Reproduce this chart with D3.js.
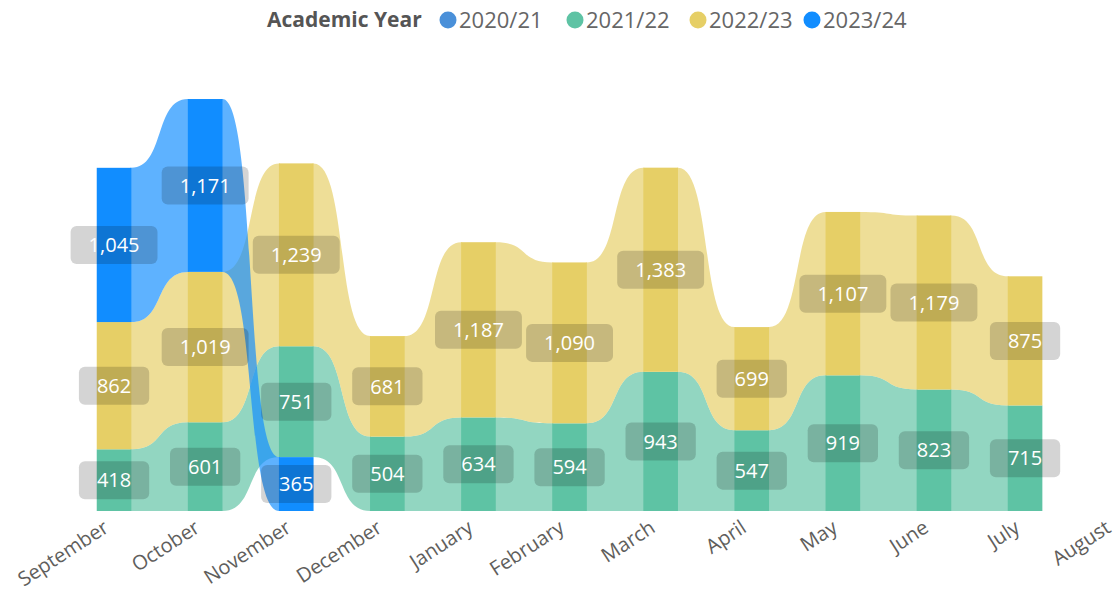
<!DOCTYPE html>
<html>
<head>
<meta charset="utf-8">
<script src="https://cdn.jsdelivr.net/npm/d3@7/dist/d3.min.js"></script>
<style>
  body { margin: 0; background: #fff; }
  svg { display: block; font-family: "Open Sans", "Noto Sans", sans-serif; }
</style>
</head>
<body>
<div id="chart"></div>
<script>
const months = ["September", "October", "November", "December", "January", "February",
                "March", "April", "May", "June", "July", "August"];
const years = ["2020/21", "2021/22", "2022/23", "2023/24"];
const colors = ["#4a90d9", "#5ec3a4", "#e6cf66", "#118dff"];

// values per month, null = no data
const v2021 = [null, null, null, null, null, null, null, null, null, null, null, null];
const v2122 = [418, 601, 751, 504, 634, 594, 943, 547, 919, 823, 715, null];
const v2223 = [862, 1019, 1239, 681, 1187, 1090, 1383, 699, 1107, 1179, 875, null];
const v2324 = [1045, 1171, 365, null, null, null, null, null, null, null, null, null];
const seriesValues = [v2021, v2122, v2223, v2324];

const width = 1120, height = 596;

const svg = d3.select("#chart").append("svg")
  .attr("width", width).attr("height", height);

// Step 1: scales
let x = d3.scaleBand()
  .domain(months)
  .range([68.5, 1161.7])
  .paddingInner(0.62)
  .paddingOuter(0.31);

let y = d3.scaleLinear()
  .domain([0, 2800])
  .range([511, 97.7]);

const bw = x.bandwidth();

// Step 2: stack each month, smallest value at the bottom
let stacks = months.map((m, i) => {
  let items = [];
  seriesValues.forEach((vals, s) => {
    if (vals[i] != null) items.push({ s: s, value: vals[i] });
  });
  items.sort((a, b) => a.value - b.value);
  let acc = 0;
  items.forEach(d => { d.y0 = acc; acc += d.value; d.y1 = acc; });
  let bySeries = {};
  items.forEach(d => bySeries[d.s] = d);
  return bySeries;
});

const plot = svg.append("g");

// Step 3: ribbons between neighbouring months
const k = 0.6;
function ribbon(a, b, xa, xb) {
  let w = xb - xa;
  let c1 = xa + w * k, c2 = xb - w * k;
  let ta = y(a.y1), tb = y(b.y1), ba = y(a.y0), bb = y(b.y0);
  return "M" + (xa - 1) + "," + ta + "L" + xa + "," + ta +
    "C" + c1 + "," + ta + " " + c2 + "," + tb + " " + xb + "," + tb +
    "L" + (xb + 1) + "," + tb + "L" + (xb + 1) + "," + bb + "L" + xb + "," + bb +
    "C" + c2 + "," + bb + " " + c1 + "," + ba + " " + xa + "," + ba +
    "L" + (xa - 1) + "," + ba + "Z";
}

seriesValues.forEach((vals, s) => {
  for (let i = 0; i < months.length - 1; i++) {
    let a = stacks[i][s], b = stacks[i + 1][s];
    if (!a || !b) continue;
    plot.append("path")
      .attr("d", ribbon(a, b, x(months[i]) + bw, x(months[i + 1])))
      .attr("fill", colors[s])
      .attr("fill-opacity", 0.68);
  }
});

// Step 4: bars
months.forEach((m, i) => {
  Object.values(stacks[i]).forEach(d => {
    plot.append("rect")
      .attr("x", x(m))
      .attr("y", y(d.y1))
      .attr("width", bw)
      .attr("height", y(d.y0) - y(d.y1))
      .attr("fill", colors[d.s]);
  });
});

// Step 5: data labels
const fmt = d3.format(",");
months.forEach((m, i) => {
  Object.values(stacks[i]).forEach(d => {
    let cx = x(m) + bw / 2;
    let cy = (y(d.y0) + y(d.y1)) / 2;
    let g = svg.append("g").attr("transform", "translate(" + cx + "," + cy + ")");
    let rect = g.append("rect").attr("fill", "rgba(0,0,0,0.17)").attr("rx", 6);
    let t = g.append("text")
      .attr("text-anchor", "middle")
      .attr("dy", "0.36em")
      .attr("fill", "#fff")
      .style("font-size", "20px")
      .text(fmt(d.value));
    let tw = t.node().getComputedTextLength();
    let bwid = tw + 36;
    rect.attr("x", -bwid / 2).attr("y", -19).attr("width", bwid).attr("height", 38);
  });
});

// Step 6: x axis labels, rotated
months.forEach(m => {
  svg.append("text")
    .attr("transform", "translate(" + (x(m) + bw / 2 - 4) + ",531) rotate(-33)")
    .attr("text-anchor", "end")
    .attr("fill", "#605e5c")
    .style("font-size", "20px")
    .text(m);
});

// Step 7: legend
const legend = svg.append("g").attr("transform", "translate(0,20)");
legend.append("text")
  .attr("x", 267).attr("dy", "0.35em")
  .attr("fill", "#555")
  .style("font-size", "21px")
  .style("font-weight", "bold")
  .text("Academic Year");
const legendX = [448, 575, 698, 812];
years.forEach((yr, s) => {
  legend.append("circle").attr("cx", legendX[s]).attr("cy", 0).attr("r", 8.5).attr("fill", colors[s]);
  legend.append("text")
    .attr("x", legendX[s] + 11).attr("dy", "0.35em")
    .attr("fill", "#666")
    .style("font-size", "22px")
    .text(yr);
});
</script>
</body>
</html>
